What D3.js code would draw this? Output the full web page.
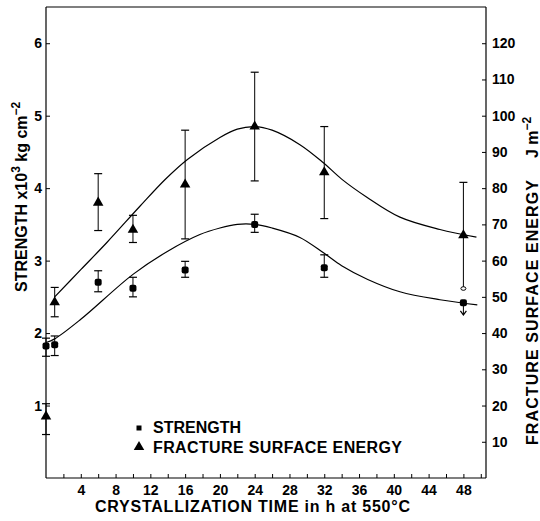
<!DOCTYPE html>
<html><head><meta charset="utf-8">
<script src="https://cdn.jsdelivr.net/npm/d3@7"></script>
<style>
body{margin:0;background:#fff}
svg{display:block}
text{font-family:"Liberation Sans",Arial,sans-serif;font-weight:bold;fill:#000}
</style>
</head><body>
<svg id="c" width="540" height="521"></svg>
<script>
// ---- data ----
const times      = [0, 1, 6, 10, 16, 24, 32, 48];
const strength   = [1.82, 1.84, 2.70, 2.62, 2.87, 3.50, 2.90, 2.42];
const strengthLo = [1.68, 1.69, 2.57, 2.50, 2.77, 3.39, 2.77, 2.25];
const strengthHi = [1.93, 1.96, 2.86, 2.77, 2.99, 3.64, 3.08, 2.42];
const energy     = [17, 48.5, 76, 68.5, 81, 97, 84.4, 67];
const energyLo   = [12, 44.5, 68.3, 65, 66, 82, 71.6, 52.3];
const energyHi   = [20.5, 52.6, 84, 72.5, 96, 112, 97, 81.6];

const strengthFitT = [0, 1, 4, 10, 14, 17.7, 20, 22, 24, 26, 29.2, 32, 34, 37, 40.7, 45.3, 49.6];
const strengthFit  = [1.87, 1.92, 2.19, 2.81, 3.13, 3.36, 3.45, 3.5, 3.5, 3.45, 3.32, 3.1, 2.93, 2.74, 2.57, 2.46, 2.39];
const energyFitT = [1, 4, 7, 10.8, 13.7, 16.3, 20, 22, 24, 26, 29.2, 31.9, 34, 36.9, 40.7, 45.3, 49.5];
const energyFit  = [50, 57.5, 65, 75, 82.4, 88, 94, 96.3, 97, 96, 92, 87, 82.5, 77.5, 72, 68.6, 66.5];

const xTickLabels = [4, 8, 12, 16, 20, 24, 28, 32, 36, 40, 44, 48];
const xMinorTicks = [2, 4, 6, 8, 10, 12, 14, 16, 18, 20, 22, 24, 26, 28, 30, 32, 34, 36, 38, 40, 42, 44, 46, 48, 50];
const leftTicks  = [1, 2, 3, 4, 5, 6];
const rightTicks = [10, 20, 30, 40, 50, 60, 70, 80, 90, 100, 110, 120];
const legendLabels = ["STRENGTH", "FRACTURE SURFACE ENERGY"];

// ---- layout ----
const L = 46, R = 486, T = 7, B = 478;
const svg = d3.select("#c");
const x  = d3.scaleLinear().domain([0, 50.6]).range([L, R]);
const yL = d3.scaleLinear().domain([0, 6.5]).range([B, T]);
const yR = d3.scaleLinear().domain([0, 130]).range([B, T]);

// frame top
svg.append("line").attr("x1", L).attr("x2", R).attr("y1", T).attr("y2", T)
  .attr("stroke", "#000").attr("stroke-width", 1.2);

// axes
const gx = svg.append("g").attr("transform", `translate(0,${B})`)
  .call(d3.axisBottom(x).tickValues(xMinorTicks).tickSizeInner(-4).tickSizeOuter(0).tickPadding(7)
    .tickFormat(d => xTickLabels.includes(d) ? d : ""));
const gl = svg.append("g").attr("transform", `translate(${L},0)`)
  .call(d3.axisLeft(yL).tickValues(leftTicks).tickFormat(d3.format("d"))
    .tickSizeInner(-4).tickSizeOuter(0).tickPadding(4));
const gr = svg.append("g").attr("transform", `translate(${R},0)`)
  .call(d3.axisRight(yR).tickValues(rightTicks).tickFormat(d3.format("d"))
    .tickSizeInner(-4).tickSizeOuter(0).tickPadding(6));
[gx, gl, gr].forEach(g => {
  g.selectAll("path.domain").attr("stroke", "#000").attr("stroke-width", 1.2);
  g.selectAll("line").attr("stroke", "#000").attr("stroke-width", 1);
  g.selectAll("text").attr("font-size", 14).attr("font-family", '"Liberation Sans",Arial,sans-serif')
    .attr("font-weight", "bold").attr("fill", "#000");
});
gx.select("path.domain").attr("d", `M${L},0H${R}`);
gl.select("path.domain").attr("d", `M0,${B}V${T}`);
gr.select("path.domain").attr("d", `M0,${B}V${T}`);

// fitted curves
const line = d3.line().curve(d3.curveCatmullRom.alpha(0.5));
svg.append("path")
  .attr("d", line(strengthFitT.map((t, i) => [x(t), yL(strengthFit[i])])))
  .attr("fill", "none").attr("stroke", "#000").attr("stroke-width", 1.2);
svg.append("path")
  .attr("d", line(energyFitT.map((t, i) => [x(t), yR(energyFit[i])])))
  .attr("fill", "none").attr("stroke", "#000").attr("stroke-width", 1.2);

// error bars
function errBar(cx, y1, y2, capLo, capHi) {
  svg.append("line").attr("x1", cx).attr("x2", cx).attr("y1", y1).attr("y2", y2)
    .attr("stroke", "#000").attr("stroke-width", 1);
  if (capHi) svg.append("line").attr("x1", cx - 4).attr("x2", cx + 4).attr("y1", y2).attr("y2", y2)
    .attr("stroke", "#000").attr("stroke-width", 1.2);
  if (capLo) svg.append("line").attr("x1", cx - 4).attr("x2", cx + 4).attr("y1", y1).attr("y2", y1)
    .attr("stroke", "#000").attr("stroke-width", 1.2);
}
times.forEach((t, i) => {
  const last = i === times.length - 1;
  errBar(x(t), yR(energyLo[i]), yR(energyHi[i]), !last, true);
  errBar(x(t), yL(strengthLo[i]), yL(strengthHi[i]), !last, !last);
});
const tLast = times[times.length - 1], iL = times.length - 1;
svg.append("ellipse").attr("cx", x(tLast)).attr("cy", yR(energyLo[iL]))
  .attr("rx", 2.5).attr("ry", 1.8).attr("fill", "#fff").attr("stroke", "#000").attr("stroke-width", 1);
svg.append("path")
  .attr("d", `M${x(tLast) - 3},${yL(strengthLo[iL]) - 4}L${x(tLast)},${yL(strengthLo[iL])}L${x(tLast) + 3},${yL(strengthLo[iL]) - 4}`)
  .attr("fill", "none").attr("stroke", "#000").attr("stroke-width", 1.2);

// markers
const tri = d3.symbol().type(d3.symbolTriangle).size(48);
times.forEach((t, i) => {
  svg.append("path").attr("d", tri()).attr("transform", `translate(${x(t)},${yR(energy[i])})`).attr("fill", "#000");
  svg.append("rect").attr("x", x(t) - 3.5).attr("y", yL(strength[i]) - 3.5)
    .attr("width", 7).attr("height", 7).attr("rx", 2).attr("fill", "#000");
});

// legend
svg.append("rect").attr("x", 136.5).attr("y", 425.5).attr("width", 5).attr("height", 5).attr("fill", "#000");
svg.append("path").attr("d", tri()).attr("transform", "translate(139,447)").attr("fill", "#000");
svg.append("text").attr("x", 153).attr("y", 433).attr("font-size", 16).text(legendLabels[0]);
svg.append("text").attr("x", 153).attr("y", 453).attr("font-size", 16)
  .attr("textLength", 249).attr("lengthAdjust", "spacing").text(legendLabels[1]);

// x title
svg.append("text").attr("x", 95).attr("y", 512).attr("font-size", 16)
  .attr("textLength", 315).attr("lengthAdjust", "spacing")
  .text("CRYSTALLIZATION TIME in h at 550\u00B0C");

// left title
const lt = svg.append("text").attr("transform", "translate(27,292) rotate(-90)").attr("font-size", 16);
lt.append("tspan").text("STRENGTH x10");
lt.append("tspan").attr("dy", -7).attr("font-size", 12).text("3");
lt.append("tspan").attr("dy", 7).text(" kg cm");
lt.append("tspan").attr("dy", -7).attr("font-size", 12).text("\u22122");

// right title
svg.append("text").attr("transform", "translate(538,445) rotate(-90)").attr("font-size", 16)
  .attr("textLength", 265).attr("lengthAdjust", "spacing").text("FRACTURE SURFACE ENERGY");
const rt = svg.append("text").attr("transform", "translate(538,158) rotate(-90)").attr("font-size", 16);
rt.append("tspan").text("J m");
rt.append("tspan").attr("dy", -7).attr("font-size", 12).text("\u22122");
</script>
</body></html>
